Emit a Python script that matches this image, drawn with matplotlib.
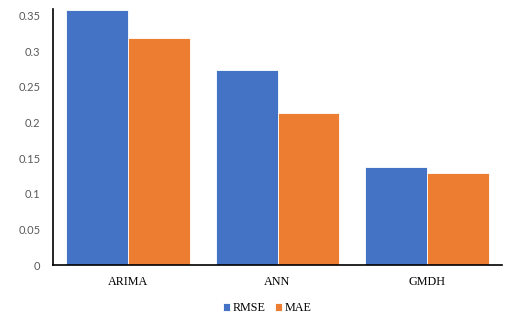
import numpy as np
import matplotlib.pyplot as plt

models = ["ARIMA", "ANN", "GMDH"]
rmse = [0.357, 0.273, 0.137]
mae = [0.318, 0.213, 0.129]
yticks = [0, 0.05, 0.1, 0.15, 0.2, 0.25, 0.3, 0.35]
ylabels = ["0", "0.05", "0.1", "0.15", "0.2", "0.25", "0.3", "0.35"]

fig = plt.figure(figsize=(5.23, 3.24), dpi=100)
ax = fig.add_axes([53/523, 59/324, 449/523, 256/324])

x = np.arange(len(models))
w = 0.413
b1 = ax.bar(x - w/2, rmse, w, color="#4472C4", edgecolor="white", linewidth=0.6, label="RMSE")
b2 = ax.bar(x + w/2, mae, w, color="#ED7D31", edgecolor="white", linewidth=0.6, label="MAE")

ax.set_xlim(-0.5, 2.5)
ax.set_ylim(0, 0.359)
ax.set_yticks(yticks)
ax.set_yticklabels(ylabels, family="Lato", fontsize=8, color="#595959")
ax.set_xticks(x)
ax.set_xticklabels(models, family="Liberation Serif", fontsize=8.7, color="black")
ax.tick_params(axis="y", length=0, pad=9)
ax.tick_params(axis="x", length=0, pad=8)
for s in ["top", "right"]:
    ax.spines[s].set_visible(False)
ax.spines["left"].set_linewidth(1.2)
ax.spines["bottom"].set_linewidth(1.2)

fig.legend(handles=[b1, b2], loc="center", bbox_to_anchor=(267/523, 1 - 308/324),
           ncol=2, frameon=False, handlelength=0.6, handleheight=0.6,
           handletextpad=0.2, columnspacing=0.8,
           prop={"family": "Liberation Serif", "size": 8.7})

plt.savefig("out.png", dpi=100)
